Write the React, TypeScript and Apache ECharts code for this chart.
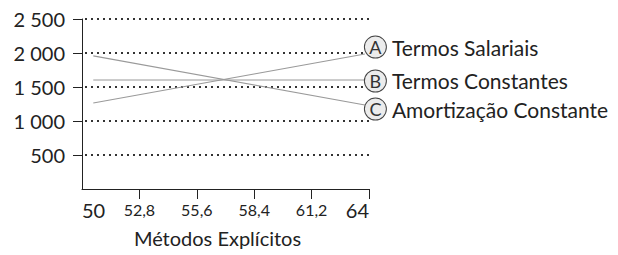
import React, { useEffect, useRef } from "react";
import * as echarts from "echarts";

const X_TICKS = [50, 52.8, 55.6, 58.4, 61.2, 64];
const Y_TICKS = [500, 1000, 1500, 2000, 2500];
const SERIES_NAMES = ["Termos Salariais", "Termos Constantes", "Amortização Constante"];
const SERIES_LETTERS = ["A", "B", "C"];
const X_VALUES = [50.55, 63.8];
const SALARIAIS = [1265, 1985];
const CONSTANTES = [1603, 1603];
const AMORTIZACAO = [1958, 1235];
const LABEL_OFFSETS = [-7, 1, 4];

const FONT = "Lato";

export default function App() {
  const ref = useRef<HTMLDivElement>(null);
  useEffect(() => {
    document.body.style.margin = "0";
    const chart = echarts.init(ref.current!, undefined, { renderer: "svg" });
    const values = [SALARIAIS, CONSTANTES, AMORTIZACAO];
    const fmtY = (v: number) =>
      v >= 1000 ? String(v).replace(/(\d)(\d{3})$/, "$1 $2") : String(v);
    chart.setOption({
      animation: false,
      textStyle: { fontFamily: FONT },
      grid: { left: 82, right: 249, top: 19, bottom: 66, containLabel: false },
      xAxis: {
        type: "value",
        min: 50,
        max: 64,
        name: "Métodos Explícitos",
        nameLocation: "middle",
        nameGap: 39,
        nameTextStyle: {
          fontFamily: FONT,
          fontSize: 20,
          color: "#222",
          verticalAlign: "top",
          padding: [0, 16, 0, 0],
        },
        axisLine: { show: true, lineStyle: { color: "#222", width: 1 } },
        axisTick: {
          show: true,
          length: 10,
          customValues: X_TICKS.slice(1),
          lineStyle: { color: "#222", width: 1 },
        },
        axisLabel: {
          customValues: X_TICKS,
          margin: 9,
          alignMinLabel: "left",
          alignMaxLabel: "right",
          formatter: (v: number) =>
            v === X_TICKS[0] || v === X_TICKS[X_TICKS.length - 1]
              ? `{big|${v}}`
              : `{small|${v.toFixed(1).replace(".", ",")}}`,
          rich: {
            big: { fontFamily: FONT, fontSize: 20, lineHeight: 23, color: "#222" },
            small: {
              fontFamily: FONT,
              fontSize: 16,
              lineHeight: 19,
              padding: [4, 0, 0, 0],
              color: "#222",
            },
          },
        },
        splitLine: { show: false },
      },
      yAxis: {
        type: "value",
        min: 0,
        max: 2500,
        interval: 500,
        axisLine: { show: true, lineStyle: { color: "#222", width: 1 } },
        axisTick: {
          show: true,
          length: 9,
          customValues: Y_TICKS,
          lineStyle: { color: "#222", width: 1 },
        },
        axisLabel: {
          showMinLabel: false,
          margin: 17,
          fontFamily: FONT,
          fontSize: 20,
          color: "#222",
          formatter: fmtY,
        },
        splitLine: {
          show: true,
          lineStyle: { color: "#333", width: 2, type: [2, 4], dashOffset: -3 },
        },
      },
      series: SERIES_NAMES.map((name, i) => ({
        name,
        type: "line",
        showSymbol: false,
        symbol: "none",
        data: X_VALUES.map((x, j) => [x, values[i][j]]),
        lineStyle: { color: "#9a9a9a", width: 1.2 },
        z: 3,
        endLabel: {
          show: true,
          distance: 0,
          offset: [0, LABEL_OFFSETS[i]],
          formatter: () => `{c|${SERIES_LETTERS[i]}}{t|${name}}`,
          rich: {
            c: {
              width: 21,
              height: 21,
              lineHeight: 21,
              align: "center",
              borderRadius: 11,
              borderColor: "#444",
              borderWidth: 1,
              backgroundColor: "#ececec",
              fontFamily: FONT,
              fontSize: 18,
              color: "#333",
            },
            t: {
              fontFamily: FONT,
              fontSize: 21,
              color: "#222",
              padding: [0, 0, 0, 6],
            },
          },
        },
      })),
    });
    return () => chart.dispose();
  }, []);
  return <div ref={ref} style={{ width: 618, height: 255 }} />;
}
